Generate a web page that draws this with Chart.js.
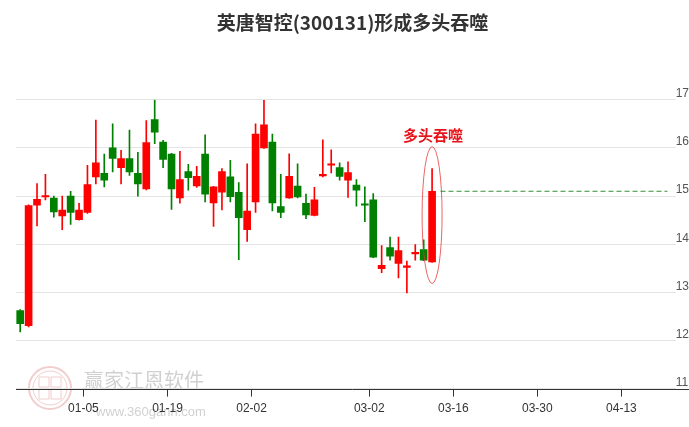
<!DOCTYPE html>
<html>
<head>
<meta charset="utf-8">
<script src="https://cdn.jsdelivr.net/npm/chart.js@4.4.1/dist/chart.umd.min.js"></script>
<style>
  html, body { margin: 0; padding: 0; background: #fff; }
  #kline { display: block; }
</style>
</head>
<body>
<canvas id="kline" width="689" height="427"></canvas>
<script>
// trading days on the category axis (the tail is the empty future part)
const dates = ['12-23','12-24','12-25','12-28','12-29','12-30','12-31',
  '01-04','01-05','01-06','01-07','01-08','01-11','01-12','01-13','01-14','01-15',
  '01-18','01-19','01-20','01-21','01-22','01-25','01-26','01-27','01-28','01-29',
  '02-01','02-02','02-03','02-04','02-05','02-08','02-09','02-18','02-19',
  '02-22','02-23','02-24','02-25','02-26','03-01','03-02','03-03','03-04','03-05',
  '03-08','03-09','03-10','03-11','03-12','03-15','03-16','03-17','03-18','03-19',
  '03-22','03-23','03-24','03-25','03-26','03-29','03-30','03-31','04-01','04-02',
  '04-05','04-06','04-07','04-08','04-09','04-12','04-13','04-14','04-15','04-16',
  '04-19','04-20'];
const tickDates = ['01-05','01-19','02-02','03-02','03-16','03-30','04-13'];
const yTicks = [11, 12, 13, 14, 15, 16, 17];

const openP  = [12.62,12.31,14.81,14.98,14.96,14.59,15.00,14.51,14.66,15.40,
                15.47,16.00,15.59,15.78,15.47,15.15,16.59,16.12,15.87,14.96,
                15.51,15.21,15.87,14.86,15.08,15.40,15.08,14.30,14.88,16.00,
                16.12,14.78,14.96,15.21,14.85,14.60,15.42,15.64,15.59,15.33,
                15.23,14.84,14.92,13.49,13.93,13.60,13.52,13.80,13.89,13.63];
const highP  = [12.64,14.82,15.26,15.45,15.00,15.00,15.10,14.85,15.64,16.58,
                15.87,16.50,15.95,16.37,15.91,16.57,17.00,16.16,15.89,15.93,
                15.66,15.62,16.27,15.20,15.57,15.74,15.28,15.67,16.50,16.99,
                16.29,15.45,15.88,15.67,15.04,15.18,16.17,15.96,15.69,15.71,
                15.34,15.19,15.05,13.97,14.15,14.15,13.65,13.99,14.09,15.57];
const lowP   = [12.18,12.28,14.38,14.92,14.56,14.30,14.41,14.50,14.64,15.25,
                15.19,15.50,15.25,15.43,15.00,15.13,16.09,15.59,14.72,14.85,
                15.12,15.18,14.88,14.37,14.71,14.88,13.68,14.06,14.66,15.99,
                14.69,14.55,14.95,14.96,14.53,14.59,15.40,15.48,15.33,14.97,
                14.79,14.47,13.72,13.41,13.67,13.30,12.99,13.67,13.66,13.62];
const closeP = [12.35,14.80,14.93,15.01,14.67,14.71,14.66,14.71,15.24,15.69,
                15.33,15.78,15.78,15.50,15.25,16.11,16.33,15.76,15.15,15.34,
                15.38,15.41,15.04,15.19,15.51,14.99,14.55,14.69,16.29,16.48,
                14.86,14.66,15.41,14.98,14.61,14.92,15.45,15.67,15.41,15.49,
                15.12,14.81,13.73,13.56,13.75,13.87,13.55,13.83,13.67,15.10];

const titleText = '英唐智控(300131)形成多头吞噬';
const markText = '多头吞噬';

const UP = '#ff0000', DOWN = '#008000';
const colors = closeP.map((c, i) => c >= openP[i] ? UP : DOWN);
const last = closeP.length - 1;
const guide = dates.map((d, i) => i > last ? closeP[last] : null);

const cjk = '"Noto Sans CJK SC", "Noto Sans", sans-serif';
const latin = '"Liberation Sans", Arial, sans-serif';

const decor = {
  id: 'decor',
  beforeDraw(chart) {
    // faint watermark in the lower left corner
    const ctx = chart.ctx;
    ctx.save();
    ctx.strokeStyle = 'rgba(210,90,90,0.3)';
    ctx.lineWidth = 2;
    ctx.beginPath(); ctx.arc(50, 388, 21, 0, Math.PI * 2); ctx.stroke();
    ctx.lineWidth = 1;
    ctx.beginPath(); ctx.arc(50, 388, 17, 0, Math.PI * 2); ctx.stroke();
    ctx.strokeRect(39, 377, 10, 10); ctx.strokeRect(51, 377, 10, 10);
    ctx.strokeRect(39, 389, 10, 10); ctx.strokeRect(51, 389, 10, 10);
    ctx.fillStyle = 'rgba(150,150,150,0.45)';
    ctx.font = '20px ' + cjk;
    ctx.textBaseline = 'middle';
    ctx.fillText('赢家江恩软件', 84, 380);
    ctx.font = '13px ' + latin;
    ctx.fillText('www.360gann.com', 96, 412);
    ctx.restore();
  },
  afterDatasetsDraw(chart) {
    const ctx = chart.ctx, x = chart.scales.x, y = chart.scales.y;
    const cx = x.getPixelForValue(last);
    const top = y.getPixelForValue(highP[last]) - 22;
    const bot = y.getPixelForValue(lowP[last]) + 21;
    ctx.save();
    ctx.strokeStyle = 'rgba(230,50,50,0.75)';
    ctx.lineWidth = 1;
    ctx.beginPath();
    ctx.ellipse(cx, (top + bot) / 2, 10, (bot - top) / 2, 0, 0, Math.PI * 2);
    ctx.stroke();
    ctx.fillStyle = '#e8141b';
    ctx.font = 'bold 15px ' + cjk;
    ctx.textAlign = 'center';
    ctx.textBaseline = 'middle';
    ctx.fillText(markText, cx + 1, top - 11);
    ctx.restore();
  },
  afterDraw(chart) {
    const ctx = chart.ctx, a = chart.chartArea;
    const yy = Math.round(a.bottom) + 0.5;
    ctx.save();
    ctx.strokeStyle = '#333';
    ctx.lineWidth = 1;
    ctx.beginPath(); ctx.moveTo(a.left, yy); ctx.lineTo(chart.width, yy); ctx.stroke();
    ctx.restore();
  }
};

new Chart(document.getElementById('kline').getContext('2d'), {
  data: {
    labels: dates,
    datasets: [
      { type: 'bar', data: lowP.map((l, i) => [l, highP[i]]), backgroundColor: colors,
        barThickness: 1, grouped: false, order: 2 },
      { type: 'bar', data: openP.map((o, i) => [o, closeP[i]]), backgroundColor: colors,
        barThickness: 7, minBarLength: 1.5, grouped: false, order: 1 },
      { type: 'line', data: guide, borderColor: '#2f8f2f', borderDash: [5, 3], borderWidth: 1,
        pointRadius: 0, order: 3 }
    ]
  },
  options: {
    responsive: false,
    animation: false,
    layout: { padding: { left: 16, right: 0, top: 0, bottom: 6 } },
    plugins: {
      legend: { display: false },
      tooltip: { enabled: false },
      title: {
        display: true, text: titleText, color: '#333',
        font: { size: 19, weight: 'bold', family: cjk },
        padding: { top: 11, bottom: 66 }
      }
    },
    scales: {
      x: {
        type: 'category', offset: true,
        grid: {
          offset: true, drawOnChartArea: false, drawTicks: true, tickLength: 8,
          color: ctx => tickDates.includes(dates[ctx.index]) ? '#333' : 'rgba(0,0,0,0)'
        },
        border: { display: false },
        ticks: {
          autoSkip: false, maxRotation: 0, minRotation: 0, labelOffset: -4, padding: 5,
          color: '#333', font: { size: 12, family: latin },
          callback: (v, i) => tickDates.includes(dates[i]) ? dates[i] : ''
        }
      },
      y: {
        position: 'right', min: yTicks[0], max: yTicks[yTicks.length - 1],
        afterBuildTicks: s => { s.ticks = yTicks.map(v => ({ value: v })); },
        grid: { color: '#e4e4e4', tickLength: 4 },
        border: { display: false },
        ticks: { color: '#555', padding: 0, labelOffset: -6, font: { size: 12, family: latin } }
      }
    }
  },
  plugins: [decor]
});
</script>
</body>
</html>
